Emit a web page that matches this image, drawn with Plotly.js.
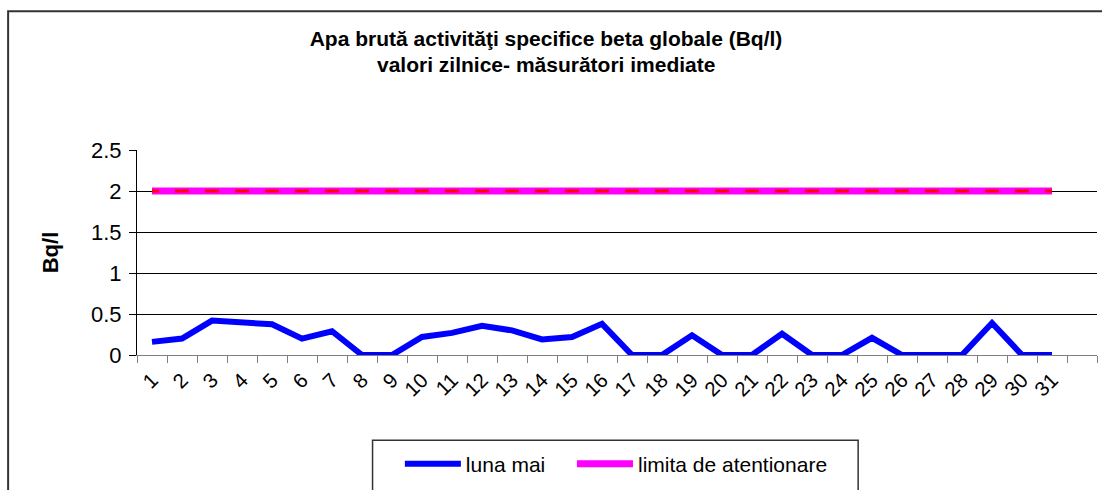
<!DOCTYPE html>
<html>
<head>
<meta charset="utf-8">
<script src="https://cdn.plot.ly/plotly-3.0.1.min.js"></script>
<style>
  html, body { margin: 0; padding: 0; background: #fff; }
  #chart { width: 1102px; height: 490px; }
</style>
</head>
<body>
<div id="chart"></div>
<script>
// daily gross beta activity, raw water - May
const days = Array.from({ length: 31 }, (_, i) => i + 1);
const dayLabels = days.map(String);
const lunaMai = [0.16, 0.20, 0.42, 0.39, 0.375, 0.20, 0.29, 0, 0, 0.22,
                 0.27, 0.355, 0.30, 0.19, 0.22, 0.38, 0, 0, 0.24, 0,
                 0, 0.26, 0, 0, 0.21, 0, 0, 0, 0.39, 0, 0];
const limita = days.map(() => 2);   // attention limit, 2 Bq/l every day

const FONT = 'Arial, "Liberation Sans", sans-serif';

// plot box in pixels, used to place the frame shapes
const L = 137.3, R = 1096.7, T = 150, B = 356.7;
const px = x => (x - L) / (R - L);
const py = y => (B - y) / (B - T);

const traces = [
  { x: days, y: lunaMai, mode: 'lines', name: 'luna mai', legend: 'legend',
    line: { color: '#0000FF', width: 6 } },
  { x: days, y: limita, mode: 'lines', name: 'limita de atentionare', legend: 'legend2',
    legendgroup: 'lim', line: { color: '#FF00FF', width: 7 } },
  { x: days, y: limita, mode: 'lines', name: 'limita de atentionare', legend: 'legend2',
    legendgroup: 'lim', showlegend: false,
    line: { color: '#FF0000', width: 3, dash: '7px,16px,7px,0px' } },
];

const legendStyle = (x) => ({
  orientation: 'h', x: px(x), y: py(446), xanchor: 'left', yanchor: 'top',
  font: { family: FONT, size: 21 }, borderwidth: 0, bgcolor: 'rgba(0,0,0,0)',
  itemwidth: 56,
});

const layout = {
  width: 1102, height: 490,
  margin: { l: L, r: 1102 - R, t: T, b: 490 - B },
  paper_bgcolor: '#fff', plot_bgcolor: '#fff',
  font: { family: FONT, color: '#000', size: 20 },
  showlegend: true,
  title: {
    text: '<b>Apa brută activităţi specifice beta globale (Bq/l)</b>',
    font: { family: FONT, size: 21, color: '#000' },
    x: 546 / 1102, xanchor: 'center', xref: 'container',
    y: 1 - 39 / 490, yanchor: 'middle', yref: 'container',
  },
  annotations: [{
    text: '<b>valori zilnice- măsurători imediate</b>',
    xref: 'paper', yref: 'paper', x: px(546), y: py(63.5),
    xanchor: 'center', yanchor: 'middle', showarrow: false,
    font: { family: FONT, size: 21, color: '#000' },
  }],
  xaxis: {
    range: [0.5, 32.5], tickmode: 'array', tickvals: days, ticktext: dayLabels,
    tickangle: -45, ticks: '', tickfont: { size: 20.5 }, ticklabelstandoff: 4,
    showline: true, linecolor: '#808080', linewidth: 1,
    showgrid: false, zeroline: false,
    minor: { tick0: 0.5, dtick: 1, ticks: 'outside', ticklen: 7, tickcolor: '#808080', showgrid: false },
  },
  yaxis: {
    range: [0, 2.5], dtick: 0.5, ticks: 'outside', ticklen: 7, tickcolor: '#000',
    tickfont: { size: 22 }, ticklabelstandoff: 3,
    showline: true, linecolor: '#000', linewidth: 1,
    showgrid: true, gridcolor: '#000', gridwidth: 1, zeroline: false,
    title: { text: '<b>Bq/l</b>', font: { size: 22 }, standoff: 26 },
  },
  legend: legendStyle(400),
  legend2: legendStyle(572),
  shapes: [
    // outer chart frame
    { type: 'rect', xref: 'paper', yref: 'paper', x0: px(8.5), x1: px(1120), y0: py(10), y1: py(520),
      line: { color: '#333', width: 2 }, fillcolor: 'rgba(0,0,0,0)', layer: 'below' },
    // legend box
    { type: 'rect', xref: 'paper', yref: 'paper', x0: px(372.7), x1: px(858), y0: py(442.7), y1: py(520),
      line: { color: '#333', width: 1.5 }, fillcolor: 'rgba(0,0,0,0)' },
  ],
};

Plotly.newPlot('chart', traces, layout, { displayModeBar: false, staticPlot: true });
</script>
</body>
</html>
